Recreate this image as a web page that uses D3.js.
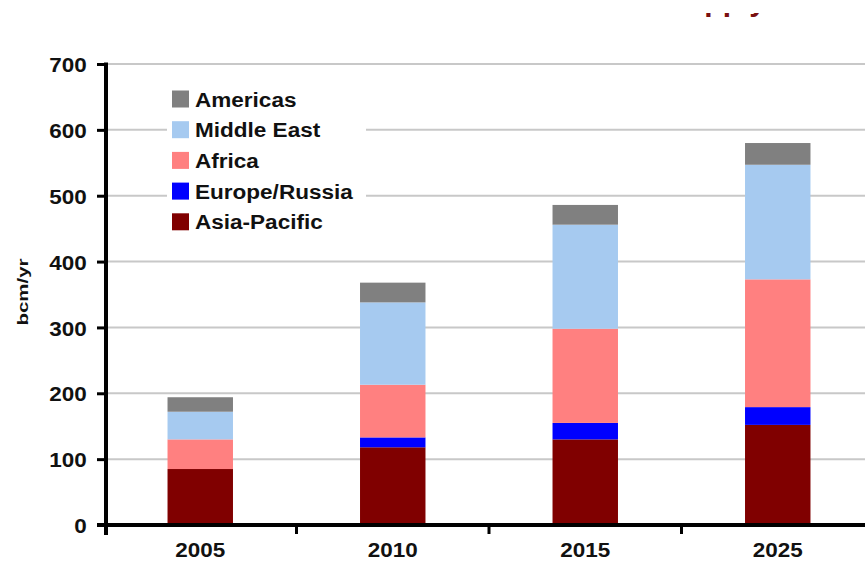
<!DOCTYPE html>
<html>
<head>
<meta charset="utf-8">
<script src="https://cdn.jsdelivr.net/npm/d3@7"></script>
<style>
  html, body { margin: 0; padding: 0; background: #fff; }
  text { font-family: "Liberation Sans", Arial, sans-serif; font-weight: bold; fill: #111; }
</style>
</head>
<body>
<div id="chart"></div>
<script>
  "use strict";
  // data (bcm/yr)
  var years = ["2005", "2010", "2015", "2025"];
  var regions = ["Asia-Pacific", "Europe/Russia", "Africa", "Middle East", "Americas"];
  var asiaPacific = [85, 118, 130, 152];
  var europeRussia = [0, 15, 25, 27];
  var africa = [45, 80, 143, 194];
  var middleEast = [42, 125, 158, 174];
  var americas = [22, 30, 30, 33];
  var yTicks = [0, 100, 200, 300, 400, 500, 600, 700];
  var colors = ["#800000", "#0000ff", "#ff8080", "#a6caf0", "#808080"];

  var W = 865, H = 562;
  var x0 = 106, y0 = 525, yTop = 64;
  var stretch = 1.1; // the source text is a little wide

  var rows = years.map(function(y, i) {
    return {year: y, "Asia-Pacific": asiaPacific[i], "Europe/Russia": europeRussia[i],
            "Africa": africa[i], "Middle East": middleEast[i], "Americas": americas[i]};
  });
  var series = d3.stack().keys(regions)(rows);

  var x = d3.scaleBand().domain(years).range([104, 874]).paddingInner(0.66).paddingOuter(0.33);
  var y = d3.scaleLinear().domain([0, 700]).range([y0, yTop]);
  var color = d3.scaleOrdinal().domain(regions).range(colors);

  var svg = d3.select("#chart").append("svg")
    .attr("width", W).attr("height", H);

  // cut-off title at the very top, only its descenders show
  svg.append("clipPath").attr("id", "topclip")
    .append("rect").attr("x", 0).attr("y", 13).attr("width", W).attr("height", 20);
  svg.append("text")
    .attr("clip-path", "url(#topclip)")
    .attr("x", 666).attr("y", 10.5)
    .style("font-size", "30px").style("fill", "#7a1010")
    .text("Supply");

  // gridlines
  svg.append("g").selectAll("line")
    .data(yTicks.filter(function(d) { return d > 0; }))
    .enter().append("line")
    .attr("x1", x0).attr("x2", W)
    .attr("y1", function(d) { return y(d); }).attr("y2", function(d) { return y(d); })
    .attr("stroke", "#c8c8c8").attr("stroke-width", 2);

  // bars
  svg.append("g").selectAll("g")
    .data(series).enter().append("g")
    .attr("fill", function(d) { return color(d.key); })
    .selectAll("rect")
    .data(function(d) { return d; }).enter().append("rect")
    .attr("x", function(d) { return x(d.data.year); })
    .attr("width", x.bandwidth())
    .attr("y", function(d) { return y(d[1]); })
    .attr("height", function(d) { return y(d[0]) - y(d[1]); });

  // legend (white box hides the gridlines)
  var legend = svg.append("g");
  legend.append("rect").attr("x", 167).attr("y", 80).attr("width", 199).attr("height", 158).attr("fill", "#fff");
  var legendOrder = regions.slice().reverse();
  var items = legend.selectAll("g.item").data(legendOrder).enter().append("g")
    .attr("transform", function(d, i) { return "translate(172," + (99 + i * 30.7) + ")"; });
  items.append("rect").attr("x", 0).attr("y", -8.5).attr("width", 17).attr("height", 17)
    .attr("fill", function(d) { return color(d); });
  items.append("text")
    .attr("transform", "translate(23,7.5) scale(" + stretch + ",1)")
    .style("font-size", "20.5px")
    .text(function(d) { return d; });

  // y axis
  var yAxis = svg.append("g").attr("transform", "translate(" + x0 + ",0)")
    .call(d3.axisLeft(y).tickValues(yTicks).tickSize(9).tickPadding(9));
  yAxis.select(".domain").remove();
  yAxis.selectAll(".tick line").attr("stroke", "#000").attr("stroke-width", 3);
  yAxis.selectAll(".tick text").style("font-size", "21px").attr("dy", "0.36em")
    .attr("transform", "scale(1.07,1)");
  svg.append("line").attr("x1", x0).attr("x2", x0).attr("y1", yTop - 1.5).attr("y2", y0 + 10)
    .attr("stroke", "#000").attr("stroke-width", 4);

  // x axis with ticks between categories
  svg.append("line").attr("x1", 97).attr("x2", W).attr("y1", y0).attr("y2", y0)
    .attr("stroke", "#000").attr("stroke-width", 4);
  var bounds = years.slice(1).map(function(d) { return x(d) - x.step() * x.paddingInner() / 2; });
  svg.append("g").selectAll("line").data(bounds).enter().append("line")
    .attr("x1", function(d) { return d; }).attr("x2", function(d) { return d; })
    .attr("y1", y0).attr("y2", y0 + 9)
    .attr("stroke", "#000").attr("stroke-width", 3);
  svg.append("g").selectAll("text").data(years).enter().append("text")
    .attr("transform", function(d) {
      return "translate(" + (x(d) + x.bandwidth() / 2) + ",557) scale(1.07,1)";
    })
    .attr("text-anchor", "middle")
    .style("font-size", "21px")
    .text(function(d) { return d; });

  // y axis title
  svg.append("text")
    .attr("transform", "translate(28,292) rotate(-90)")
    .attr("text-anchor", "middle")
    .attr("textLength", 67).attr("lengthAdjust", "spacingAndGlyphs")
    .style("font-size", "15px")
    .text("bcm/yr");
</script>
</body>
</html>
